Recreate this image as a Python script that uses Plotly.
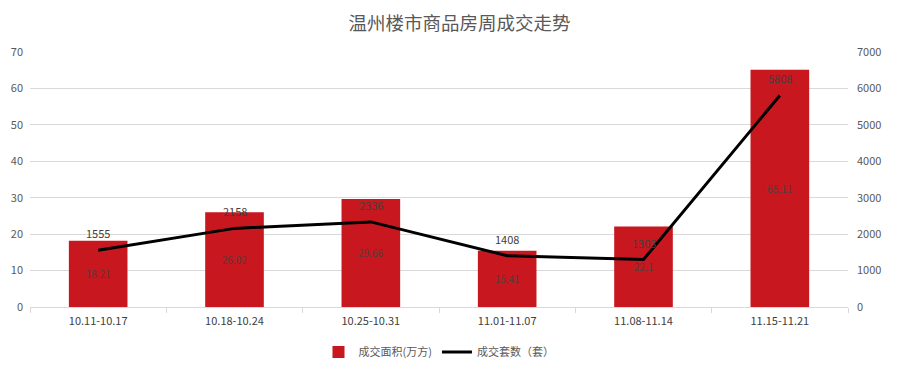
import plotly.graph_objects as go

categories = ["10.11-10.17", "10.18-10.24", "10.25-10.31", "11.01-11.07", "11.08-11.14", "11.15-11.21"]
area_values = [18.21, 26.02, 29.66, 15.41, 22.1, 65.11]
units_values = [1555, 2158, 2336, 1408, 1303, 5808]
area_labels = ["18.21", "26.02", "29.66", "15.41", "22.1", "65.11"]

font_cjk = "Noto Sans CJK SC, Noto Sans, sans-serif"

fig = go.Figure()
fig.add_trace(go.Bar(
    x=categories, y=area_values, name="成交面积(万方)",
    marker=dict(color="#C8171E", line=dict(width=0)),
    width=0.43,
    text=area_labels, textposition="inside", insidetextanchor="middle",
    textfont=dict(color="#5a3a3a", size=10, family=font_cjk),
    yaxis="y",
))
fig.add_trace(go.Scatter(
    x=categories, y=units_values, name="成交套数（套）",
    mode="lines", line=dict(color="#000000", width=3),
    yaxis="y2",
))
for c, v in zip(categories, units_values):
    fig.add_annotation(x=c, y=v, yref="y2", xref="x", text=str(v),
                       showarrow=False, yshift=17,
                       font=dict(size=11, color="#404040", family=font_cjk))

fig.update_layout(
    width=903, height=372,
    margin=dict(l=22, r=63, t=44, b=73, autoexpand=False),
    paper_bgcolor="white", plot_bgcolor="white",
    title=dict(text="温州楼市商品房周成交走势", x=0.5, xanchor="center", y=0.958, yanchor="middle",
               yref="container", automargin=False,
               font=dict(size=18.5, color="#595959", family=font_cjk)),
    font=dict(family=font_cjk, color="#595959", size=11),
    showlegend=True,
    legend=dict(orientation="h", x=0.5, xanchor="center", y=-0.176, yanchor="middle",
                font=dict(size=11, color="#595959"), itemwidth=30),
    bargap=0.57,
    xaxis=dict(type="category", showline=True, linecolor="#d9d9d9", linewidth=1,
               ticks="outside", tickson="boundaries", ticklen=5, tickcolor="#d9d9d9",
               automargin=False, ticklabelstandoff=4,
               tickfont=dict(size=11, color="#404040")),
    yaxis=dict(range=[0, 70], dtick=10, showgrid=True, gridcolor="#d9d9d9", gridwidth=1,
               zeroline=False, tickfont=dict(size=11, color="#595959"), ticks="",
               automargin=False, ticklabelstandoff=6),
    yaxis2=dict(range=[0, 7000], dtick=1000, overlaying="y", side="right", showgrid=False,
                zeroline=False, tickfont=dict(size=11, color="#595959"),
                automargin=False, ticklabelstandoff=8),
)

fig.write_html("out.html")
